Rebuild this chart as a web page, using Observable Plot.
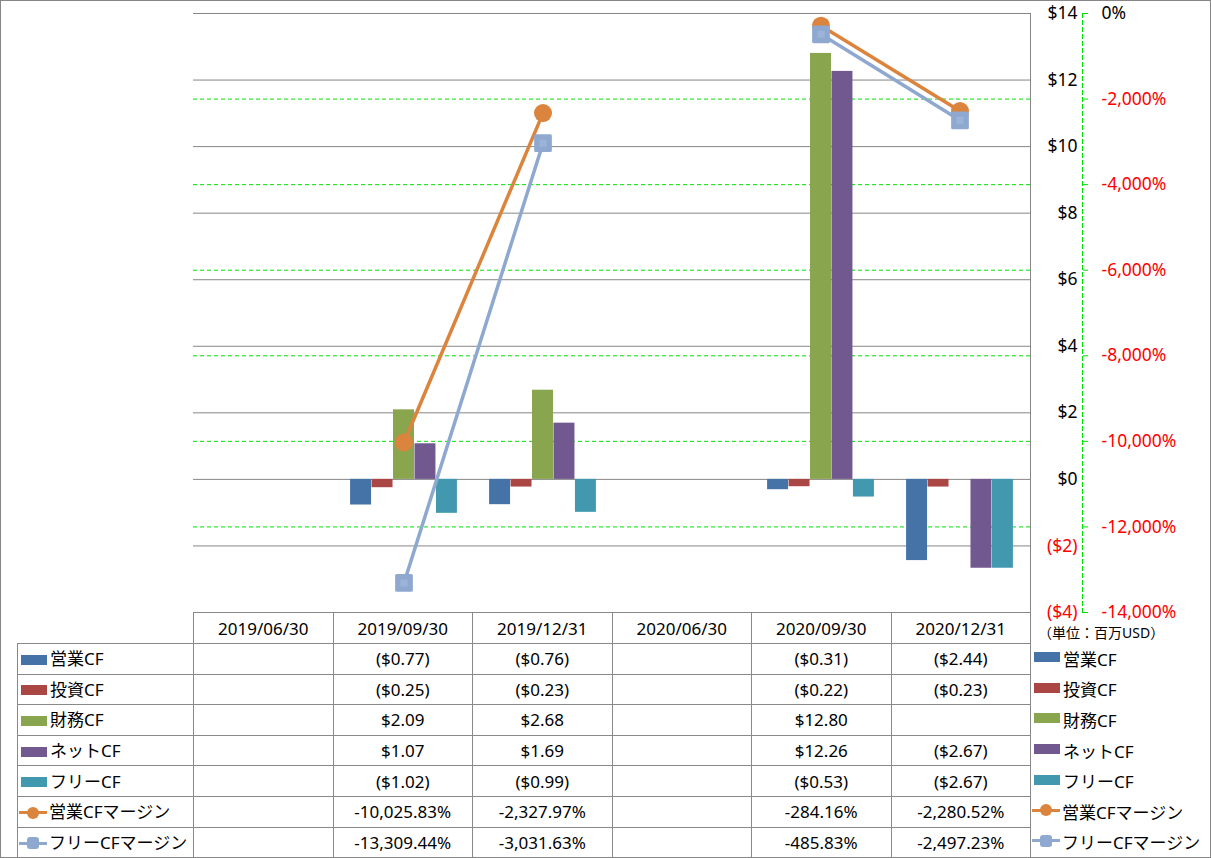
<!DOCTYPE html>
<html><head><meta charset="utf-8">
<script src="https://cdn.jsdelivr.net/npm/d3@7"></script>
<script src="https://cdn.jsdelivr.net/npm/@observablehq/plot@0.6"></script>
<style>
body{margin:0;background:#fff;font-family:"Noto Sans","Noto Sans CJK JP",sans-serif;color:#000;}
#wrap{position:relative;width:1211px;height:858px;overflow:hidden;}
#border{position:absolute;left:0;top:0;width:1211px;height:858px;box-sizing:border-box;border:1px solid #868686;pointer-events:none;}
#chart{position:absolute;left:0;top:0;}
#tbl{position:absolute;left:17px;top:612px;border-collapse:collapse;table-layout:fixed;font-size:17px;}
#tbl td{border:1px solid #898989;padding:0;text-align:center;white-space:nowrap;overflow:hidden;line-height:1;}
#tbl td.lab{text-align:left;}
#tbl td.blank{border-left:none;border-top:none;}
.sw{display:inline-block;width:26px;height:10px;vertical-align:middle;margin:0 3px 0 3px;position:relative;top:-1px;}
.lsw{display:inline-block;width:28px;height:12px;vertical-align:middle;margin:0 2px 0 1px;position:relative;top:-1px;}
.lsw .ln{position:absolute;left:0;right:0;top:4.5px;height:3px;}
.lsw .mk{position:absolute;left:8px;top:0;width:12px;height:12px;}
#legend{position:absolute;left:1031px;top:643px;font-size:17px;}
.li{height:30.6px;display:flex;align-items:center;white-space:nowrap;}
#unit{position:absolute;left:1038px;top:626px;font-size:14px;line-height:1;white-space:nowrap;}
</style>
</head><body>
<div id="wrap">
  <div id="chart"></div>
  <table id="tbl"></table>
  <div id="unit">（単位：百万USD）</div>
  <div id="legend"></div>
  <div id="border"></div>
</div>
<script>
// ---- data ----
const dates = ["2019/06/30","2019/09/30","2019/12/31","2020/06/30","2020/09/30","2020/12/31"];
const opCF    = [null, -0.77, -0.76, null, -0.31, -2.44];
const invCF   = [null, -0.25, -0.23, null, -0.22, -0.23];
const finCF   = [null,  2.09,  2.68, null, 12.80, null];
const netCF   = [null,  1.07,  1.69, null, 12.26, -2.67];
const freeCF  = [null, -1.02, -0.99, null, -0.53, -2.67];
const opMargin   = [null, -10025.83, -2327.97, null, -284.16, -2280.52];
const freeMargin = [null, -13309.44, -3031.63, null, -485.83, -2497.23];
const barNames  = ["営業CF","投資CF","財務CF","ネットCF","フリーCF"];
const lineNames = ["営業CFマージン","フリーCFマージン"];
const dollarTicks = [-4,-2,0,2,4,6,8,10,12,14];
const pctTicks = [-14000,-12000,-10000,-8000,-6000,-4000,-2000,0];

// ---- styles ----
const barColors  = ["#4572A7","#AA4643","#89A54E","#71588F","#4198AF"];
const lineColors = ["#DB843D","#8EA8D0"];
const barValues  = [opCF, invCF, finCF, netCF, freeCF];
const lineValues = [opMargin, freeMargin];

// secondary axis mapped onto primary: -14000% -> -4, 0% -> 14
const yMin = -4, yMax = 14, pMin = -14000, pMax = 0;
const pct2y = p => yMin + (p - pMin) * (yMax - yMin) / (pMax - pMin);

const W = 1211, mL = 193, mR = 181, mT = 13, H = 620, mB = 8;
const bw = (W - mL - mR) / dates.length;
const barW = bw / 6.5;
const inset = (bw - barW) / 2;

const fmtDollar = v => v == null ? "" : (v < 0 ? `($${Math.abs(v).toFixed(2)})` : `$${v.toFixed(2)}`);
const fmtPct = v => v == null ? "" : v.toLocaleString("en-US",{minimumFractionDigits:2,maximumFractionDigits:2}) + "%";
const fmtDollarTick = v => v < 0 ? `($${-v})` : `$${v}`;
const fmtPctTick = v => v.toLocaleString("en-US") + "%";

const rows = dates.map((d, i) => ({date: d, i}));

const marks = [];
// secondary gridlines (green dashed)
marks.push(Plot.ruleY(pctTicks.filter(p => p > pMin && p < pMax), {y: pct2y, stroke: "#00E000", strokeDasharray: "4,3"}));
// primary gridlines
marks.push(Plot.ruleY(dollarTicks, {stroke: "#868686"}));
// right border of plot area
marks.push(Plot.frame({anchor: "right", stroke: "#868686"}));
// bars
barValues.forEach((vals, k) => {
  marks.push(Plot.barY(rows.filter(r => vals[r.i] != null), {
    x: "date", y: r => vals[r.i], fill: barColors[k],
    insetLeft: inset, insetRight: inset, dx: (k - 2) * barW
  }));
});
// lines + markers
lineValues.forEach((vals, k) => {
  marks.push(Plot.line(rows, {x: "date", y: r => vals[r.i] == null ? NaN : pct2y(vals[r.i]), stroke: lineColors[k], strokeWidth: 3.5}));
  const pts = rows.filter(r => vals[r.i] != null);
  if (k === 0) {
    marks.push(Plot.dot(pts, {x: "date", y: r => pct2y(vals[r.i]), r: 9, fill: lineColors[k]}));
  } else {
    marks.push(Plot.dot(pts, {x: "date", y: r => pct2y(vals[r.i]), r: 8.3, symbol: "square", fill: lineColors[k], stroke: lineColors[k], strokeWidth: 3, strokeLinejoin: "round"}));
    marks.push(Plot.dot(pts, {x: "date", y: r => pct2y(vals[r.i]), r: 4, symbol: "square", fill: "#9BB3D9"}));
  }
});
// primary axis labels
marks.push(Plot.text(dollarTicks, {y: d => d, frameAnchor: "right", dx: 47, textAnchor: "end", text: fmtDollarTick,
  fill: d => d < 0 ? "#FF0000" : "#000000", fontSize: 17.5}));
// secondary axis line, ticks and labels
marks.push(Plot.frame({anchor: "right", dx: 52, stroke: "#00E000", strokeDasharray: "4,3"}));
marks.push(Plot.axisY(pctTicks.map(pct2y), {anchor: "right", dx: 52, tickSize: 5, stroke: "#00E000", tickFormat: () => "", label: null}));
marks.push(Plot.text(pctTicks, {y: pct2y, frameAnchor: "right", dx: 71, textAnchor: "start", text: fmtPctTick,
  fill: d => d < 0 ? "#FF0000" : "#000000", fontSize: 17.5}));

const chart = Plot.plot({
  width: W, height: H,
  marginLeft: mL, marginRight: mR, marginTop: mT, marginBottom: mB,
  style: {background: "transparent", fontFamily: '"Noto Sans","Noto Sans CJK JP",sans-serif', overflow: "visible"},
  x: {type: "band", domain: dates, padding: 0, axis: null},
  y: {domain: [yMin, yMax], axis: null},
  marks
});
document.getElementById("chart").appendChild(chart);

// ---- data table ----
const tbl = document.getElementById("tbl");
let html = `<colgroup><col style="width:176px">${dates.map(() => `<col style="width:${bw}px">`).join("")}</colgroup>`;
html += `<tr style="height:31px"><td class="blank"></td>${dates.map(d => `<td>${d}</td>`).join("")}</tr>`;
function swatchBar(c){ return `<span class="sw" style="background:${c}"></span>`; }
function swatchLine(c, k){
  const mk = k === 0 ? `border-radius:50%;background:${c}` : `border-radius:3px;background:${c}`;
  return `<span class="lsw"><span class="ln" style="background:${c}"></span><span class="mk" style="${mk}"></span></span>`;
}
barValues.forEach((vals, k) => {
  html += `<tr style="height:30.6px"><td class="lab">${swatchBar(barColors[k])}${barNames[k]}</td>${vals.map(v => `<td>${fmtDollar(v)}</td>`).join("")}</tr>`;
});
lineValues.forEach((vals, k) => {
  html += `<tr style="height:30.6px"><td class="lab">${swatchLine(lineColors[k], k)}${lineNames[k]}</td>${vals.map(v => `<td>${fmtPct(v)}</td>`).join("")}</tr>`;
});
tbl.innerHTML = html;

// ---- right legend ----
const leg = document.getElementById("legend");
let lh = "";
barNames.forEach((n, k) => { lh += `<div class="li">${swatchBar(barColors[k])}${n}</div>`; });
lineNames.forEach((n, k) => { lh += `<div class="li">${swatchLine(lineColors[k], k)}${n}</div>`; });
leg.innerHTML = lh;
</script>
</body></html>
